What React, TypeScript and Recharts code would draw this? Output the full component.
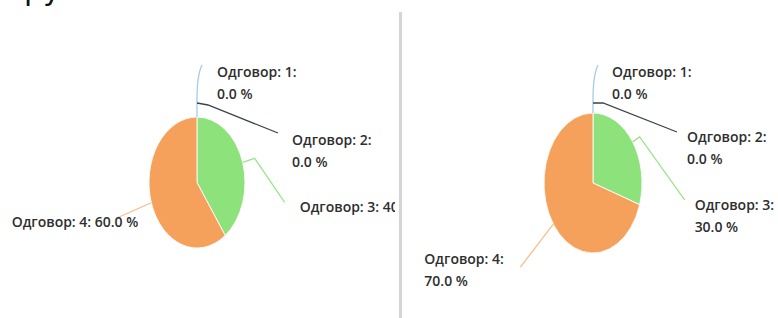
import React from 'react';
import { PieChart, Pie, Cell } from 'recharts';

const categories = ['Одговор: 1', 'Одговор: 2', 'Одговор: 3', 'Одговор: 4'];
const leftValues = [0, 0, 40, 60];
const rightValues = [0, 0, 30, 70];
const sliceColors = ['#a9cbe3', '#3d434c', '#8ee27b', '#f6a15b'];
const labelLineColors = ['#a9cbe3', '#3d434c', '#9be68a', '#f3c08e'];

const RADIAN = Math.PI / 180;

type LabelCfg = {
  path: (number[] | string)[];
  tx: number;
  ty: number;
  anchor: 'start' | 'end';
  twoLines: boolean;
};

// label placement (screen px, relative to the slice edge point)
const leftLabelCfg: LabelCfg[] = [
  { path: [[0, 0], [0, -17], 'Q', [0, -42], [5, -52]], tx: 20, ty: -45, anchor: 'start', twoLines: true },
  { path: [[0, -14], [11, -12], [81, 16]], tx: 95, ty: 23, anchor: 'start', twoLines: true },
  { path: [[0, 0], [12, -4], [42, 40]], tx: 57, ty: 45, anchor: 'start', twoLines: false },
  { path: [[0, 0], [-34, 15]], tx: -13, ty: 19, anchor: 'end', twoLines: false },
];
const rightLabelCfg: LabelCfg[] = [
  { path: [[0, 0], [0, -13], 'Q', [0, -38], [5, -48]], tx: 19, ty: -41, anchor: 'start', twoLines: true },
  { path: [[0, -10], [10, -10], [84, 19]], tx: 94, ty: 24, anchor: 'start', twoLines: true },
  { path: [[0, 0], [7, -5], [52, 58]], tx: 62, ty: 63, anchor: 'start', twoLines: true },
  { path: [[0, 0], [-33, 43]], tx: -129, ty: 35, anchor: 'start', twoLines: true },
];

const makeData = (vals: number[]) => categories.map((name, i) => ({ name, value: vals[i] }));

const makeLabel = (s: number, cfg: LabelCfg[]) => (props: any) => {
  const { cx, cy, midAngle, outerRadius, index, percent, name } = props;
  const c = cfg[index];
  if (!c) return null;
  const sx = cx + s * outerRadius * Math.cos(-midAngle * RADIAN);
  const sy = cy + outerRadius * Math.sin(-midAngle * RADIAN);
  let d = '';
  let cmd = 'M';
  c.path.forEach((p) => {
    if (typeof p === 'string') {
      cmd = p;
      return;
    }
    const x = sx + p[0];
    const y = sy + p[1];
    if (cmd === 'Q') {
      d += ` Q ${x} ${y}`;
      cmd = 'Qend';
    } else if (cmd === 'Qend') {
      d += ` ${x} ${y}`;
      cmd = 'L';
    } else {
      d += ` ${cmd} ${x} ${y}`;
      cmd = 'L';
    }
  });
  const pct = `${(percent * 100).toFixed(1)} %`;
  const tx = sx + c.tx;
  const ty = sy + c.ty;
  const textStyle = {
    fontFamily: '"Open Sans", sans-serif',
    fontSize: 14,
    fontWeight: 600,
    fill: '#2e2e2e',
  } as any;
  return (
    <g transform={`translate(${cx} 0) scale(${1 / s} 1) translate(${-cx} 0)`}>
      <path d={d} stroke={labelLineColors[index]} strokeWidth={1.3} fill="none" />
      {c.twoLines ? (
        <text x={tx} y={ty} textAnchor={c.anchor} style={textStyle}>
          <tspan x={tx} dy="0.35em">{`${name}:`}</tspan>
          <tspan x={tx} dy={22}>{pct}</tspan>
        </text>
      ) : (
        <text x={tx} y={ty} dy="0.35em" textAnchor={c.anchor} style={textStyle}>
          {`${name}: ${pct}`}
        </text>
      )}
    </g>
  );
};

const ScaledPie = ({ left, width, s, cxScreen, cy, r, values, cfg }: any) => {
  const svgW = width / s;
  return (
    <div style={{ position: 'absolute', left, top: 0, width, height: 318, overflow: 'hidden' }}>
      <div style={{ transform: `scaleX(${s})`, transformOrigin: '0 0', width: svgW, height: 318 }}>
        <PieChart width={svgW} height={318} margin={{ top: 0, right: 0, bottom: 0, left: 0 }}>
          <Pie
            data={makeData(values)}
            dataKey="value"
            nameKey="name"
            cx={cxScreen / s}
            cy={cy}
            outerRadius={r}
            startAngle={90}
            endAngle={-270}
            stroke="#ffffff"
            strokeWidth={1}
            labelLine={false}
            label={makeLabel(s, cfg)}
            isAnimationActive={false}
          >
            {values.map((_: number, i: number) => (
              <Cell key={i} fill={sliceColors[i]} />
            ))}
          </Pie>
        </PieChart>
      </div>
    </div>
  );
};

export default function App() {
  return (
    <div style={{ position: 'fixed', left: 0, top: 0, width: 778, height: 318, background: '#fff', overflow: 'hidden' }}>
      <div style={{ position: 'absolute', left: 24, top: -27, fontFamily: '"DejaVu Sans", sans-serif', fontSize: 30, color: '#111', lineHeight: '34px' }}>
        ру
      </div>
      <ScaledPie left={0} width={395} s={0.733} cxScreen={197} cy={182.5} r={65.5} values={leftValues} cfg={leftLabelCfg} />
      <div style={{ position: 'absolute', left: 399, top: 12, width: 3, height: 306, background: '#d5d5d5' }} />
      <ScaledPie left={402} width={376} s={0.7} cxScreen={191} cy={183} r={70} values={rightValues} cfg={rightLabelCfg} />
    </div>
  );
}
